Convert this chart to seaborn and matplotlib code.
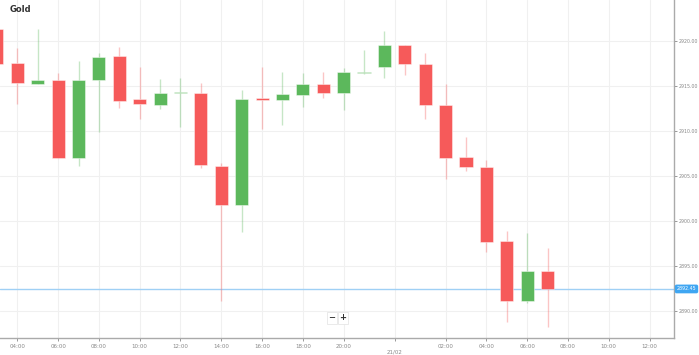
import numpy as np
import pandas as pd
import matplotlib
matplotlib.use("Agg")
import matplotlib.pyplot as plt
import seaborn as sns

# hourly candles (22:00 session break skipped)
hours = ["03:00", "04:00", "05:00", "06:00", "07:00", "08:00", "09:00", "10:00",
         "11:00", "12:00", "13:00", "14:00", "15:00", "16:00", "17:00", "18:00",
         "19:00", "20:00", "21:00", "23:00", "00:00", "01:00", "02:00", "03:00",
         "04:00", "05:00", "06:00", "07:00"]
opens = [2921.33, 2917.52, 2915.22, 2915.67, 2907.04, 2915.67, 2918.33, 2913.52,
         2912.92, 2914.19, 2914.19, 2906.15, 2901.78, 2913.63, 2913.41, 2914.00,
         2915.22, 2914.19, 2916.48, 2917.07, 2919.56, 2917.41, 2912.85, 2907.15,
         2906.04, 2897.78, 2891.11, 2894.44]
highs = [2921.40, 2919.19, 2921.33, 2916.40, 2917.74, 2918.63, 2919.30, 2917.15,
         2915.74, 2915.85, 2915.37, 2906.48, 2914.56, 2917.07, 2916.52, 2916.41,
         2916.52, 2916.96, 2919.00, 2921.11, 2919.60, 2918.63, 2915.22, 2909.37,
         2906.78, 2898.93, 2898.70, 2896.96]
lows = [2917.40, 2913.00, 2915.20, 2907.00, 2906.15, 2909.93, 2912.52, 2911.30,
        2912.40, 2910.48, 2905.85, 2891.15, 2898.81, 2910.22, 2910.67, 2912.70,
        2913.63, 2912.33, 2916.33, 2915.85, 2916.22, 2911.33, 2904.63, 2905.59,
        2896.59, 2888.81, 2890.85, 2888.26]
closes = [2917.50, 2915.30, 2915.67, 2907.04, 2915.67, 2918.26, 2913.37, 2913.00,
          2914.19, 2914.25, 2906.19, 2901.78, 2913.59, 2913.41, 2914.11, 2915.19,
          2914.19, 2916.59, 2916.59, 2919.56, 2917.44, 2912.89, 2906.96, 2906.04,
          2897.63, 2891.15, 2894.44, 2892.45]

tick_pos = [0, 2, 4, 6, 8, 10, 12, 14, 16, 18.5, 21, 23, 25, 27, 29, 31]
tick_labels = ["04:00", "06:00", "08:00", "10:00", "12:00", "14:00", "16:00",
               "18:00", "20:00", "\n21/02", "02:00", "04:00", "06:00", "08:00",
               "10:00", "12:00"]
price_ticks = [2890, 2895, 2900, 2905, 2910, 2915, 2920]
last_price = closes[-1]

df = pd.DataFrame({"hour": hours, "open": opens, "high": highs,
                   "low": lows, "close": closes})
df["idx"] = np.arange(len(df)) - 1
df["up"] = df["close"] >= df["open"]

sns.set_theme(style="white")
plt.rcParams['font.family'] = ['DejaVu Sans']

red = "#f65a5a"
green = "#5cb85c"

fig = plt.figure(figsize=(6.99, 3.55), dpi=100)
ax = fig.add_axes([0, 17 / 355, 674 / 699, 338 / 355])

# grid
for p in price_ticks:
    ax.axhline(p, color="#f0f0f0", lw=0.8, zorder=0)
for t in tick_pos:
    ax.axvline(t, color="#f0f0f0", lw=0.8, zorder=0)

colors = [green if u else red for u in df["up"]]
ax.vlines(df["idx"], df["low"], df["high"], colors=colors, lw=1, alpha=0.35, zorder=2)
bottoms = np.minimum(df["open"], df["close"])
heights = np.maximum(np.abs(df["close"] - df["open"]), 0.12)
ax.bar(df["idx"], heights, bottom=bottoms, width=0.64, color=colors,
       edgecolor=[(1, 1, 1, 0.5)] * len(df), linewidth=0.6, zorder=3)

# current price line
ax.axhline(last_price, color="#9fd0f5", lw=1, zorder=1)

ax.set_xlim(-0.85, 32.2)
ax.set_ylim(2887.0, 2924.56)

ax.yaxis.tick_right()
ax.set_yticks(price_ticks)
ax.set_yticklabels([f"{p:.2f}" for p in price_ticks])
ax.set_xticks(tick_pos)
ax.set_xticklabels(tick_labels)
ax.tick_params(axis="x", labelsize=4, colors="#888888", length=2, width=0.6,
               pad=2, direction="out", bottom=True)
ax.tick_params(axis="y", labelsize=3.4, colors="#888888", length=2, width=0.6,
               pad=1.5, direction="out", right=True, left=False)

for s in ["top", "left"]:
    ax.spines[s].set_visible(False)
for s in ["right", "bottom"]:
    ax.spines[s].set_color("#aaaaaa")
    ax.spines[s].set_linewidth(1)

ax.text(1.004, last_price, f"{last_price:.2f}", transform=ax.get_yaxis_transform(),
        fontsize=3.4, color="white", va="center", ha="left",
        bbox=dict(boxstyle="round,pad=0.25", fc="#3fa6f2", ec="#3fa6f2"),
        clip_on=False)

ax.text(10 / 674, 1 - 10 / 338, "Gold", transform=ax.transAxes, fontsize=6,
        fontweight="bold", color="#333333", va="center", ha="left")

# zoom buttons
for xp, s in [(332 / 674, "\u2212"), (343 / 674, "+")]:
    ax.text(xp, 1 - 318 / 338, s, transform=ax.transAxes, fontsize=6,
            color="#333333", va="center", ha="center", fontweight="bold",
            bbox=dict(boxstyle="square,pad=0.2", fc="white", ec="#e6e6e6", lw=0.6))

fig.savefig("out.png", dpi=100)
